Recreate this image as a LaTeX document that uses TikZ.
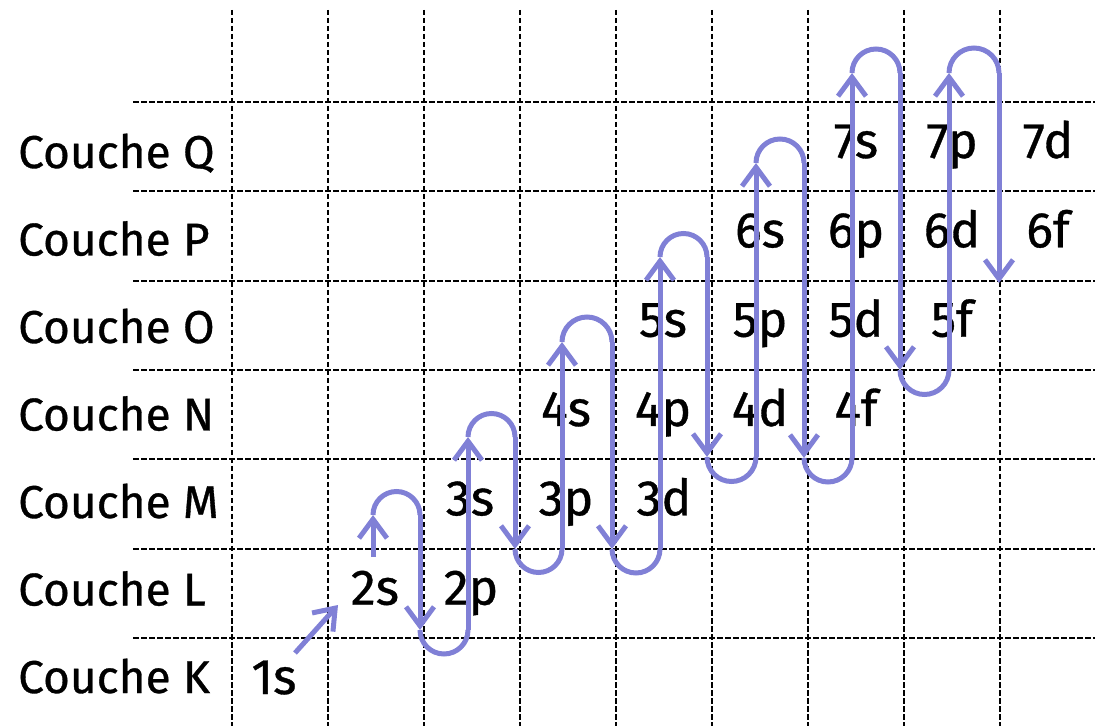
\documentclass[tikz,border=0pt]{standalone}
\usepackage{fontspec}
\setmainfont{Fira Sans}[FakeBold=0.7]
\usetikzlibrary{arrows.meta}
\definecolor{orb}{RGB}{128,128,214}
\begin{document}
\begin{tikzpicture}[x=1pt,y=1pt,
  gridline/.style={line width=2.2pt, dash pattern=on 5.5pt off 2.5pt},
  lbl/.style={anchor=base west, inner sep=0pt, font=\fontsize{46}{50}\selectfont},
  orbl/.style={anchor=base, inner sep=0pt, font=\fontsize{50}{54}\selectfont},
  fl/.style={draw=orb, line width=5pt},
  arr/.style={fl, -{Straight Barb[length=19pt,width=28pt]}}
]
\useasboundingbox (0,0) rectangle (1095,726);
\foreach \y in {624,534.67,445.33,356,266.67,177.33,88}
  \draw[gridline] (133,\y) -- (1095,\y);
\foreach \x in {232,328,...,1000}
  \draw[gridline] (\x,716) -- (\x,0);
% shell labels
\foreach \l/\y in {K/33, L/120.5, M/208, N/295.5, O/383, P/470.5, Q/558}
  \node[lbl] (c\l) at (18,\y) {Couche \l};
% orbital labels
\foreach \t/\x/\y in {1s/274/32,
  2s/375/121.3, 2p/471/121.3,
  3s/470/210.7, 3p/566/210.7, 3d/664/210.7,
  4s/566/300, 4p/663/300, 4d/760/300, 4f/856/300,
  5s/663/389.3, 5p/760/389.3, 5d/856/389.3, 5f/952/389.3,
  6s/760/478.7, 6p/856/478.7, 6d/952/478.7, 6f/1048/478.7,
  7s/856/568, 7p/952/568, 7d/1048/568}
  \node[orbl] (o\t) at (\x,\y) {\t};
% filling path
\draw[arr] (295,73) -- (338,121);
\draw[arr] (373,169) -- (373,211);
\draw[fl] (373,211) arc[start angle=180,end angle=0,radius=23.5];
\draw[arr] (420,211) -- (420,96);
\draw[fl] (420,96) arc[start angle=180,end angle=360,radius=24];
\draw[arr] (468,96) -- (468,289);
\draw[fl] (468,289) arc[start angle=180,end angle=0,radius=23.5];
\draw[arr] (515,289) -- (515,177);
\draw[fl] (515,177) arc[start angle=180,end angle=360,radius=23.5];
\draw[arr] (562,177) -- (562,384);
\draw[fl] (562,384) arc[start angle=180,end angle=0,radius=25];
\draw[arr] (612,384) -- (612,177);
\draw[fl] (612,177) arc[start angle=180,end angle=360,radius=24];
\draw[arr] (660,177) -- (660,469);
\draw[fl] (660,469) arc[start angle=180,end angle=0,radius=23.5];
\draw[arr] (707,469) -- (707,269);
\draw[fl] (707,269) arc[start angle=180,end angle=360,radius=24.5];
\draw[arr] (756,269) -- (756,563);
\draw[fl] (756,563) arc[start angle=180,end angle=0,radius=24];
\draw[arr] (804,563) -- (804,268);
\draw[fl] (804,268) arc[start angle=180,end angle=360,radius=24];
\draw[arr] (852,268) -- (852,653);
\draw[fl] (852,653) arc[start angle=180,end angle=0,radius=24];
\draw[arr] (900,653) -- (900,356);
\draw[fl] (900,356) arc[start angle=180,end angle=360,radius=24.5];
\draw[arr] (949,356) -- (949,653);
\draw[fl] (949,653) arc[start angle=180,end angle=0,radius=25];
\draw[arr] (999,653) -- (999,443);
\end{tikzpicture}
\end{document}
